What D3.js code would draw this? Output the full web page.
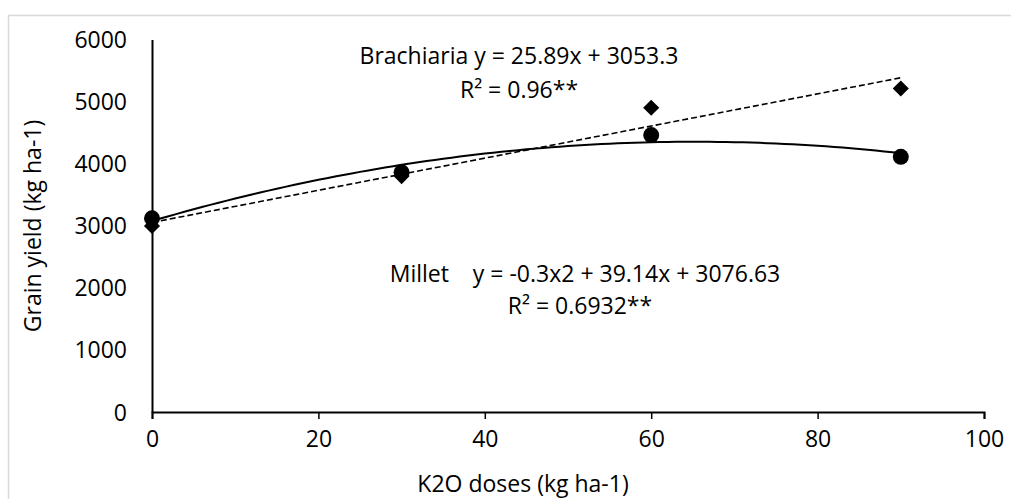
<!DOCTYPE html>
<html>
<head>
<meta charset="utf-8">
<script src="https://cdn.jsdelivr.net/npm/d3@7"></script>
<style>
  body { margin: 0; background: #fff; }
  text { font-family: "Open Sans", sans-serif; fill: #000; }
</style>
</head>
<body>
<svg id="chart" width="1011" height="499"></svg>
<script>
// data
var doses = [0, 30, 60, 90];
var millet = [3120, 3860, 4460, 4110];
var brachiaria = [2995, 3800, 4900, 5212];
var xTicks = [0, 20, 40, 60, 80, 100];
var yTicks = [0, 1000, 2000, 3000, 4000, 5000, 6000];
// trendline coefficients as printed on the chart
var brachiariaFit = [3053.3, 25.89];          // a + b*x
var milletFit = [3076.63, 39.14, -0.3];       // a + b*x + c*x^2

var fontSize = '23px';
var svg = d3.select('#chart');

// outer chart border
svg.append('rect')
    .attr('x', 8.5).attr('y', 15.5)
    .attr('width', 1010).attr('height', 500)
    .attr('fill', 'none')
    .attr('stroke', '#d9d9d9')
    .attr('stroke-width', 1.5);

var x = d3.scaleLinear().domain([0, 100]).range([152, 984]);
var y = d3.scaleLinear().domain([0, 6000]).range([412, 39.5]);

// axes
var xAxis = d3.axisBottom(x).tickValues(xTicks).tickSize(7).tickPadding(12);
var gx = svg.append('g').attr('transform', 'translate(0,' + y(0) + ')').call(xAxis);
gx.select('.domain').attr('stroke', '#000').attr('stroke-width', 2);
gx.selectAll('.tick line').attr('stroke', '#000').attr('stroke-width', 1.5);
gx.selectAll('.tick text').style('font-size', fontSize).attr('fill', '#000');

var yAxis = d3.axisLeft(y).tickValues(yTicks).tickSize(0).tickPadding(25).tickFormat(d3.format('d'));
var gy = svg.append('g').attr('transform', 'translate(' + x(0) + ',0)').call(yAxis);
gy.select('.domain').attr('stroke', '#000').attr('stroke-width', 2);
gy.selectAll('.tick text').style('font-size', fontSize).attr('fill', '#000').attr('dy', '0.35em');

// axis titles
svg.append('text')
    .attr('x', 523).attr('y', 492)
    .attr('text-anchor', 'middle')
    .style('font-size', fontSize)
    .text('K2O doses (kg ha-1)');

svg.append('text')
    .attr('transform', 'translate(41,226) rotate(-90)')
    .attr('text-anchor', 'middle')
    .style('font-size', fontSize)
    .text('Grain yield (kg ha-1)');

// trendlines
var fitX = d3.range(0, 90.5, 1);
var line = d3.line()
    .x(function(d) { return x(d[0]); })
    .y(function(d) { return y(d[1]); });

svg.append('path')
    .datum(fitX.map(function(v) { return [v, milletFit[0] + milletFit[1] * v + milletFit[2] * v * v]; }))
    .attr('d', line)
    .attr('fill', 'none')
    .attr('stroke', '#000')
    .attr('stroke-width', 2);

svg.append('path')
    .datum([0, 90].map(function(v) { return [v, brachiariaFit[0] + brachiariaFit[1] * v]; }))
    .attr('d', line)
    .attr('fill', 'none')
    .attr('stroke', '#000')
    .attr('stroke-width', 1.6)
    .attr('stroke-dasharray', '6,3');

// markers
var diamond = d3.symbol().type(d3.symbolDiamond2).size(165);

svg.append('g').selectAll('path')
    .data(doses)
    .enter()
    .append('path')
    .attr('d', diamond)
    .attr('transform', function(d, i) { return 'translate(' + x(d) + ',' + y(brachiaria[i]) + ')'; })
    .attr('fill', '#000');

svg.append('g').selectAll('circle')
    .data(doses)
    .enter()
    .append('circle')
    .attr('cx', function(d) { return x(d); })
    .attr('cy', function(d, i) { return y(millet[i]); })
    .attr('r', 8)
    .attr('fill', '#000');

// equation labels
var labels = [
    ['Brachiaria y = 25.89x + 3053.3', 519, 56],
    ['R² = 0.96**', 519, 90],
    ['Millet    y = -0.3x2 + 39.14x + 3076.63', 585, 274],
    ['R² = 0.6932**', 580, 306]
];
svg.append('g').selectAll('text')
    .data(labels)
    .enter()
    .append('text')
    .attr('x', function(d) { return d[1]; })
    .attr('y', function(d) { return d[2]; })
    .attr('dy', '0.35em')
    .attr('text-anchor', 'middle')
    .style('font-size', fontSize)
    .style('white-space', 'pre')
    .attr('xml:space', 'preserve')
    .text(function(d) { return d[0]; });
</script>
</body>
</html>
